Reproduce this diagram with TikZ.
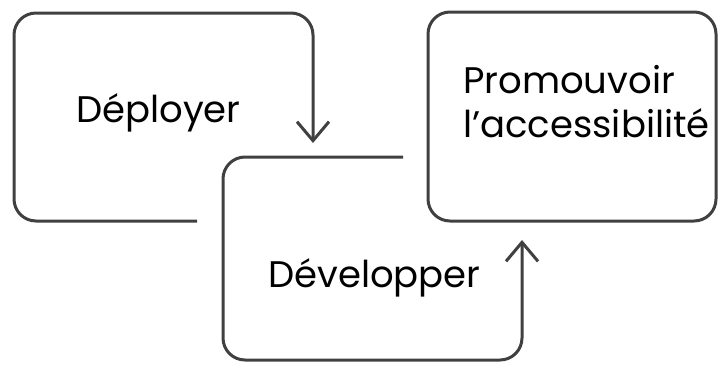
\documentclass[tikz,border=0pt]{standalone}
\usepackage{fontspec}
\setmainfont{Poppins}
\usetikzlibrary{arrows.meta}

\tikzset{
	loopline/.style={line width=3pt, draw=black!75, rounded corners=22pt},
	looptip/.style={-{Straight Barb[length=19pt,width=32pt]}},
	steptext/.style={font=\fontsize{37}{44}\selectfont, text=black, inner sep=0pt, align=left}
}

\begin{document}
\begin{tikzpicture}[x=1pt,y=-1pt]
	\useasboundingbox (0,0) rectangle (722,367);

	%% Deployer Loop %%
	\coordinate (depstart) at (197,221);
	\coordinate (depend) at (313,143);
	\draw [loopline,looptip] (depstart) -- (14,221) -- (14,13) -- (313,13) -- (depend);
	\node [steptext,anchor=base west] (deploy) at (76,122) {Déployer};

	%% Developper Loop %%
	\coordinate (devstart) at (403,157);
	\coordinate (devend) at (522,240);
	\draw [loopline,looptip] (devstart) -- (223,157) -- (223,360) -- (522,360) -- (devend);
	\node [steptext,anchor=base west] (develop) at (268,287) {Développer};

	%% Promouvoir Box %%
	\draw [loopline] (428,12) rectangle (716,221);
	\node [steptext,anchor=base west] (promote) at (463,137) {Promouvoir\\l’accessibilité};

\end{tikzpicture}
\end{document}
